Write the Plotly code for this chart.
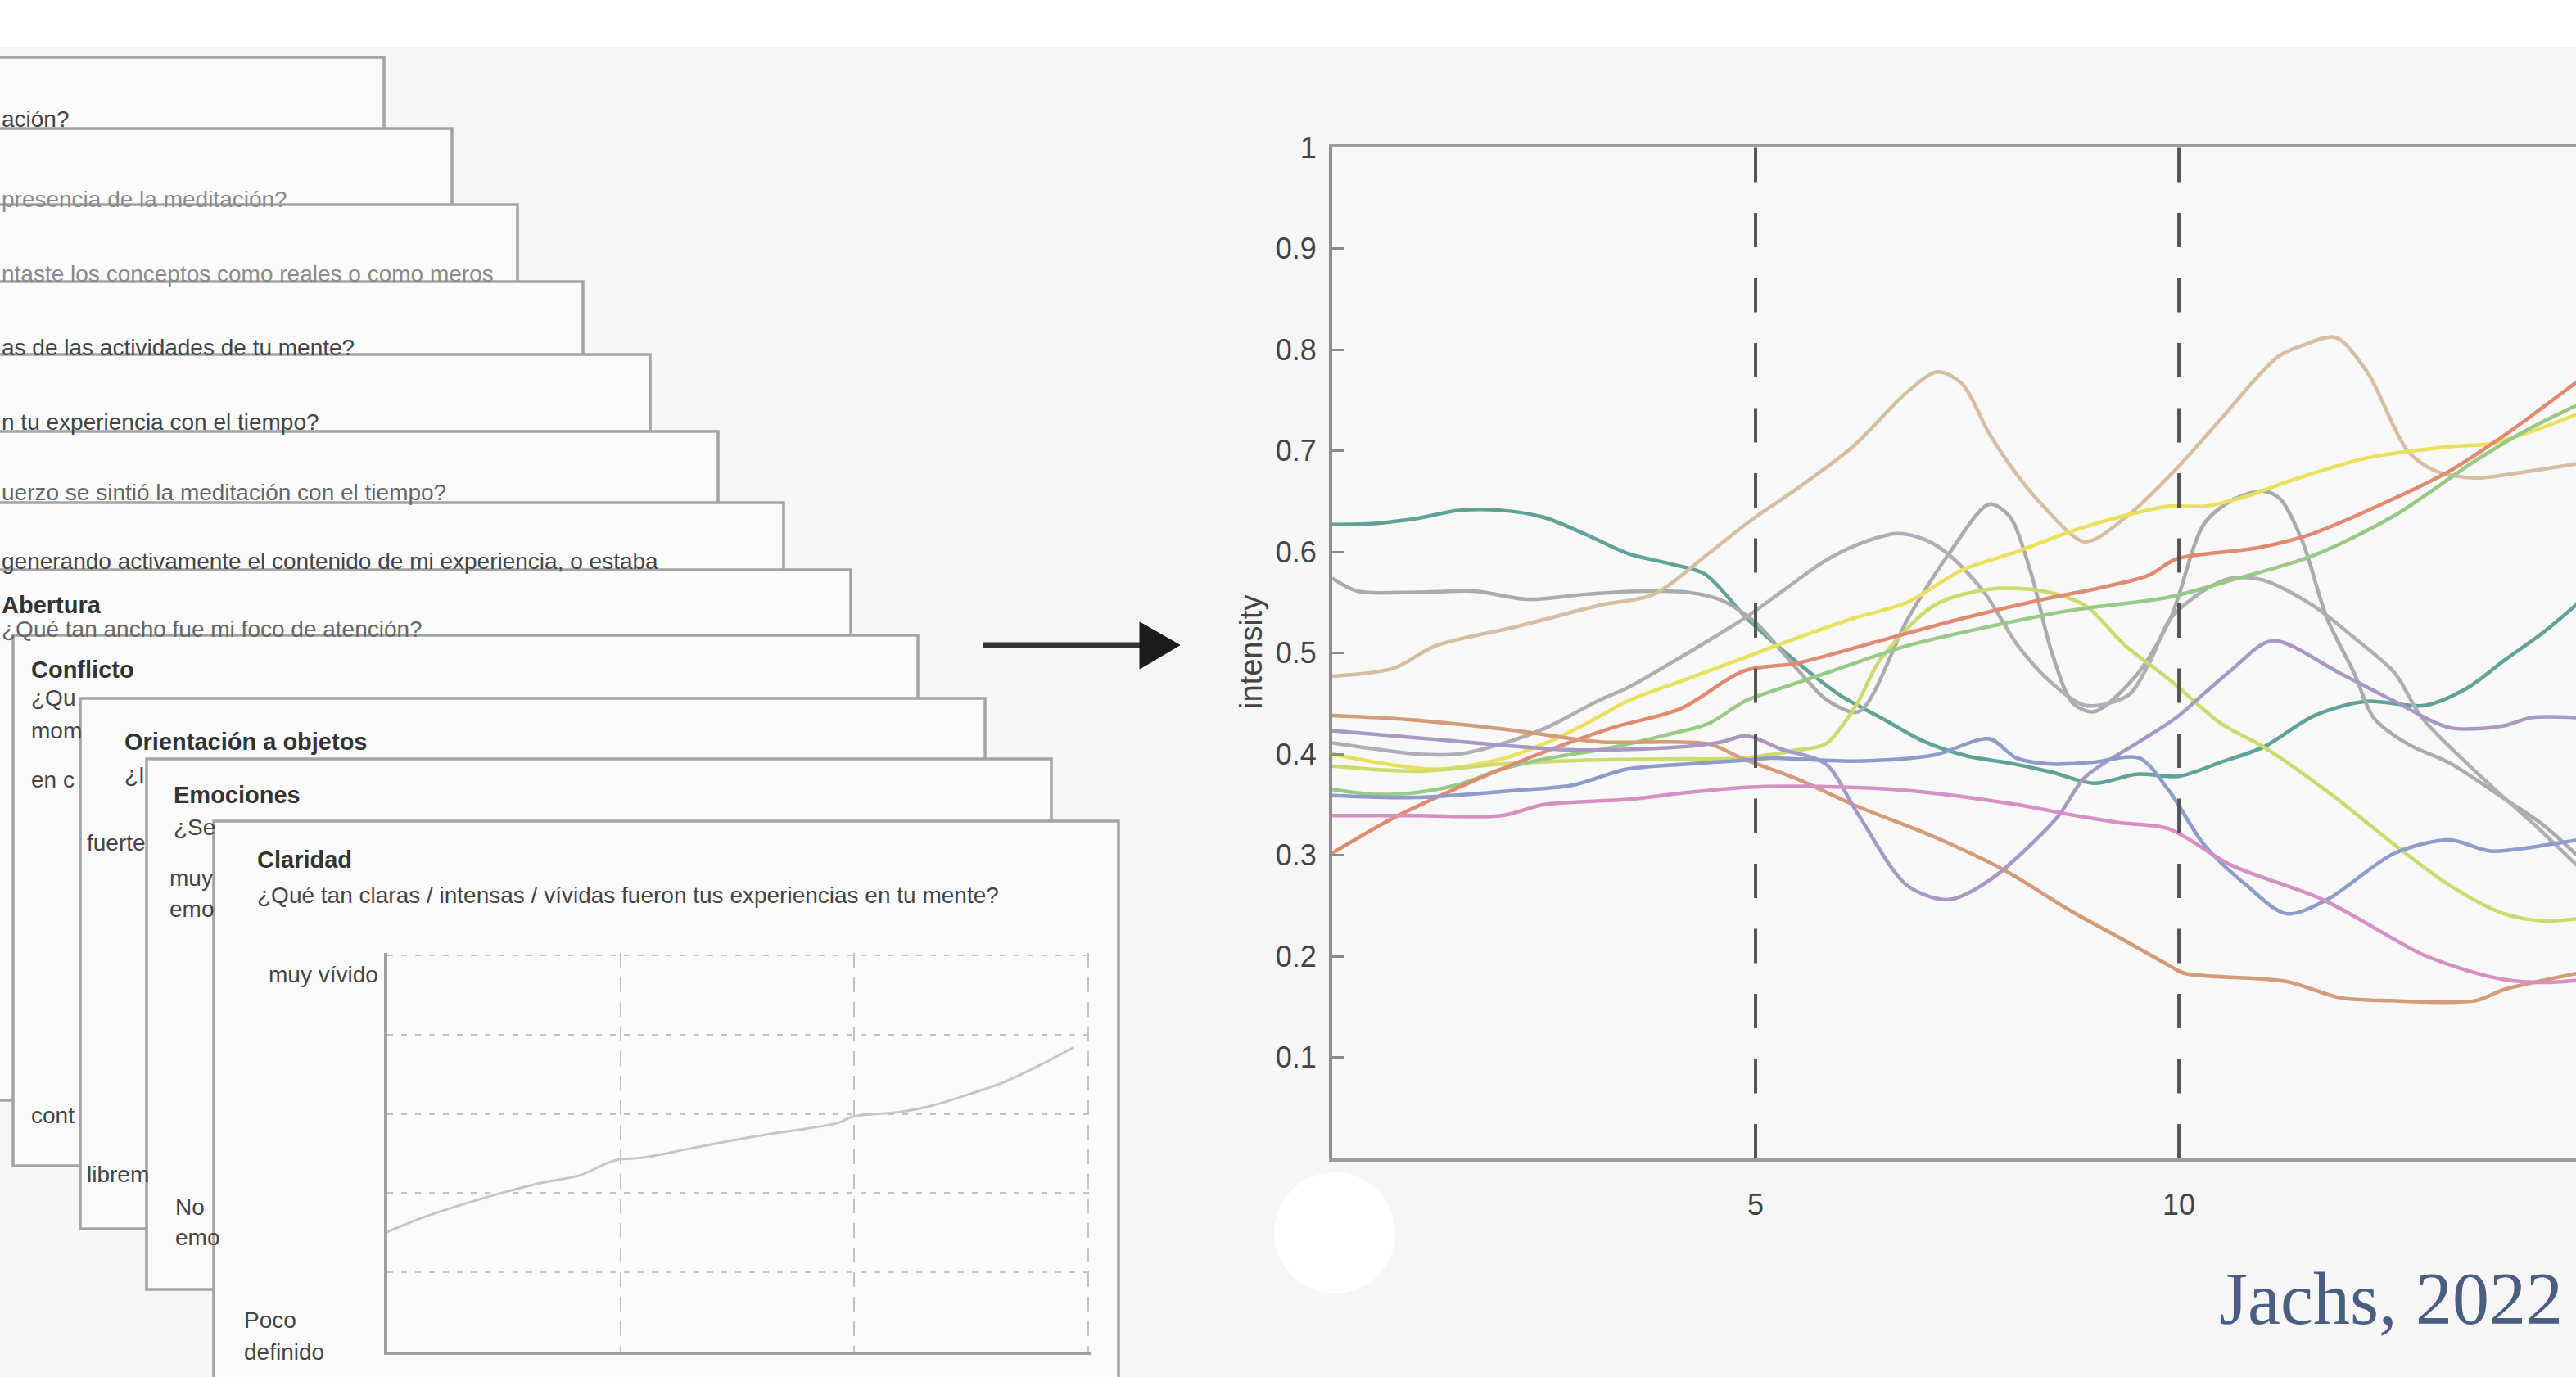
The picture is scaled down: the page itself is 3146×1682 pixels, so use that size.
import plotly.graph_objects as go

W, H = 3146, 1682

# ---------------- data ----------------
phase_bounds = [5, 10]
x_ticks = [5, 10]
y_ticks = [0.1, 0.2, 0.3, 0.4, 0.5, 0.6, 0.7, 0.8, 0.9, 1.0]
y_ticktext = ["0.1", "0.2", "0.3", "0.4", "0.5", "0.6", "0.7", "0.8", "0.9", "1"]

teal_x = [0, 0.5, 1, 1.5, 2, 2.5, 3, 3.5, 4, 4.4, 4.9, 5.5, 6, 6.5, 7, 7.5, 8, 8.5, 9, 9.5, 10, 10.5, 11, 11.6, 12.2, 12.9, 13.4, 13.85, 14.3, 14.7]
teal_y = [0.627, 0.628, 0.633, 0.641, 0.641, 0.634, 0.617, 0.598, 0.588, 0.578, 0.534, 0.49, 0.458, 0.435, 0.412, 0.398, 0.391, 0.382, 0.371, 0.380, 0.378, 0.392, 0.407, 0.438, 0.452, 0.448, 0.465, 0.493, 0.52, 0.548]

grayb_x = [0, 0.3, 1, 1.7, 2.3, 3, 3.6, 4.2, 4.6, 5.0, 5.5, 5.85, 6.22, 6.8, 7.3, 7.76, 8.0, 8.25, 8.5, 8.75, 9.0, 9.5, 9.9, 10.3, 10.65, 11.0, 11.2, 11.46, 11.75, 12.07, 12.3, 12.7, 13.2, 13.84, 14.3, 14.7]
grayb_y = [0.574, 0.561, 0.560, 0.561, 0.553, 0.558, 0.561, 0.560, 0.552, 0.53, 0.483, 0.453, 0.442, 0.534, 0.60, 0.647, 0.635, 0.58, 0.50, 0.45, 0.442, 0.478, 0.534, 0.628, 0.652, 0.66, 0.652, 0.61, 0.534, 0.48, 0.436, 0.41, 0.391, 0.356, 0.33, 0.30]

graya_x = [0, 0.5, 1, 1.5, 2, 2.5, 3.15, 3.5, 4, 4.5, 4.9, 5.3, 5.8, 6.2, 6.67, 7.0, 7.3, 7.7, 8.1, 8.5, 8.9, 9.4, 9.65, 9.9, 10.3, 10.62, 11.0, 11.58, 12.07, 12.55, 12.87, 13.68, 14.2, 14.7]
graya_y = [0.411, 0.405, 0.40, 0.40, 0.41, 0.425, 0.453, 0.466, 0.49, 0.515, 0.536, 0.56, 0.59, 0.607, 0.618, 0.612, 0.596, 0.56, 0.507, 0.47, 0.448, 0.458, 0.49, 0.534, 0.562, 0.574, 0.572, 0.547, 0.515, 0.48, 0.436, 0.369, 0.33, 0.29]

tan_x = [0, 0.73, 1.22, 2.18, 3.15, 3.8, 4.44, 4.96, 5.5, 6.15, 6.79, 7.15, 7.44, 7.76, 8.08, 8.4, 8.89, 9.37, 9.97, 10.46, 11.17, 11.46, 11.85, 12.23, 12.7, 13.03, 13.5, 14.0, 14.7]
tan_y = [0.477, 0.485, 0.507, 0.526, 0.547, 0.558, 0.598, 0.632, 0.663, 0.704, 0.758, 0.778, 0.766, 0.717, 0.677, 0.645, 0.610, 0.634, 0.682, 0.728, 0.793, 0.804, 0.812, 0.777, 0.70, 0.68, 0.673, 0.678, 0.687]

yellow_x = [0, 0.5, 1.22, 2, 2.5, 3, 3.48, 4.12, 4.86, 5.5, 6.15, 6.79, 7.44, 8.08, 8.72, 9.37, 9.88, 10.3, 10.8, 11.27, 12.23, 13.2, 13.68, 14.2, 14.7]
yellow_y = [0.40, 0.392, 0.385, 0.395, 0.41, 0.43, 0.452, 0.472, 0.495, 0.515, 0.534, 0.55, 0.582, 0.60, 0.62, 0.636, 0.645, 0.645, 0.655, 0.669, 0.693, 0.704, 0.707, 0.72, 0.736]

ygreen_x = [0, 1, 2, 3, 4, 4.86, 5.5, 5.83, 6.2, 6.47, 7.11, 7.76, 8.4, 8.89, 9.37, 9.88, 10.5, 11.0, 11.8, 12.55, 13.2, 13.84, 14.3, 14.7]
ygreen_y = [0.388, 0.383, 0.39, 0.394, 0.395, 0.396, 0.404, 0.41, 0.45, 0.493, 0.547, 0.563, 0.561, 0.547, 0.507, 0.474, 0.43, 0.407, 0.36, 0.31, 0.27, 0.242, 0.235, 0.237]

green_x = [0, 0.5, 1, 1.5, 2, 2.5, 3.15, 3.5, 4, 4.44, 4.89, 5.3, 5.83, 6.79, 7.76, 8.72, 9.88, 10.62, 11.58, 12.55, 13.5, 14.1, 14.7]
green_y = [0.365, 0.36, 0.362, 0.37, 0.385, 0.395, 0.404, 0.41, 0.42, 0.43, 0.453, 0.465, 0.48, 0.507, 0.526, 0.542, 0.555, 0.572, 0.596, 0.636, 0.69, 0.72, 0.745]

red_x = [0, 0.73, 1.55, 2.44, 3.31, 4.12, 4.86, 5.5, 6.47, 7.44, 8.4, 9.05, 9.65, 9.97, 10.94, 11.58, 12.55, 13.2, 13.84, 14.7]
red_y = [0.302, 0.337, 0.369, 0.40, 0.426, 0.445, 0.482, 0.49, 0.512, 0.534, 0.553, 0.564, 0.577, 0.593, 0.604, 0.618, 0.653, 0.68, 0.715, 0.768]

orange_x = [0, 0.9, 2.18, 3.15, 4.44, 4.86, 5.5, 6.15, 7.11, 7.92, 8.72, 9.37, 9.88, 10.07, 11.27, 11.9, 12.5, 13.5, 13.84, 14.7]
orange_y = [0.438, 0.434, 0.423, 0.412, 0.41, 0.395, 0.375, 0.35, 0.318, 0.286, 0.245, 0.215, 0.191, 0.183, 0.175, 0.159, 0.156, 0.156, 0.167, 0.183]

purple_x = [0, 1.55, 2.83, 4.12, 4.6, 4.89, 5.3, 5.83, 6.2, 6.79, 7.28, 7.76, 8.56, 8.89, 9.53, 9.97, 10.3, 10.62, 11.1, 11.9, 12.55, 13.2, 13.84, 14.16, 14.7]
purple_y = [0.423, 0.412, 0.404, 0.407, 0.412, 0.418, 0.405, 0.39, 0.342, 0.27, 0.256, 0.275, 0.337, 0.377, 0.412, 0.436, 0.46, 0.483, 0.512, 0.48, 0.452, 0.426, 0.428, 0.436, 0.436]

blue_x = [0, 1, 2.18, 2.83, 3.48, 4.2, 4.89, 5.18, 6.15, 7.11, 7.76, 8.08, 8.5, 9.0, 9.53, 9.88, 10.3, 10.8, 11.27, 11.75, 12.55, 13.2, 13.68, 14.48, 14.7]
blue_y = [0.359, 0.357, 0.364, 0.369, 0.385, 0.39, 0.394, 0.396, 0.393, 0.399, 0.415, 0.396, 0.39, 0.392, 0.396, 0.364, 0.31, 0.27, 0.242, 0.256, 0.302, 0.315, 0.304, 0.312, 0.315]

pink_x = [0, 1, 2, 2.5, 3.48, 4.2, 4.89, 5.5, 6.79, 8.08, 8.72, 9.3, 9.88, 10.62, 11.7, 12.87, 13.4, 13.84, 14.3, 14.7]
pink_y = [0.339, 0.339, 0.339, 0.35, 0.355, 0.362, 0.367, 0.368, 0.364, 0.35, 0.34, 0.332, 0.326, 0.29, 0.256, 0.202, 0.186, 0.177, 0.174, 0.176]

series_colors = ["#5fa398", "#ababab", "#b0adb5", "#d6bea2", "#e9e15a", "#cddb6e",
                 "#98c986", "#e08a72", "#d39b78", "#a898c4", "#8e9ccc", "#d690c4"]

# inner mini chart on the "Claridad" card shows one rating curve
inner_x = red_x
inner_y = red_y
inner_grid_x = [5, 10, 15]
inner_grid_y = [0.2, 0.4, 0.6, 0.8, 1.0]

# survey cards: right edge and top (pixels of the slide)
card_right = [469, 552, 632, 712, 794, 877, 957, 1039, 1121, 1203, 1284, 1366]
card_top = [70, 157, 250, 344, 433, 527, 614, 696, 776, 853, 927, 1003]
CARD_W, CARD_H = 1105, 648

# ---------------- helpers ----------------
def px(x):
    return x / W

def py(y):
    return 1 - y / H

FONT = "Liberation Sans, Arial, sans-serif"

fig = go.Figure()

table = [
    (teal_x, teal_y), (grayb_x, grayb_y), (graya_x, graya_y), (tan_x, tan_y),
    (yellow_x, yellow_y), (ygreen_x, ygreen_y), (green_x, green_y), (red_x, red_y),
    (orange_x, orange_y), (purple_x, purple_y), (blue_x, blue_y), (pink_x, pink_y),
]
for (xs, ys), col in zip(table, series_colors):
    fig.add_trace(go.Scatter(
        x=xs, y=ys, mode="lines", line=dict(color=col, width=4.5, shape="spline", smoothing=0.85),
        hoverinfo="skip", showlegend=False, xaxis="x", yaxis="y"))

fig.add_trace(go.Scatter(
    x=inner_x, y=inner_y, mode="lines", line=dict(color="#c6c6c6", width=3, shape="spline", smoothing=1.0),
    hoverinfo="skip", showlegend=False, xaxis="x2", yaxis="y2"))

shapes = []
# white strip at the top of the slide
shapes.append(dict(type="rect", xref="paper", yref="paper", x0=0, x1=1, y0=py(58), y1=1,
                   fillcolor="#ffffff", line=dict(width=0), layer="below"))
# stacked cards
for i, (r, t) in enumerate(zip(card_right, card_top)):
    b = t + CARD_H if i < len(card_right) - 1 else H + 60
    shapes.append(dict(type="rect", xref="paper", yref="paper",
                       x0=px(r - CARD_W), x1=px(r), y0=py(b), y1=py(t),
                       fillcolor="#fbfbfb", line=dict(color="#a4a4a4", width=3.5), layer="below"))
# arrow
shapes.append(dict(type="line", xref="paper", yref="paper", x0=px(1200), x1=px(1405), y0=py(788), y1=py(788),
                   line=dict(color="#333333", width=7), layer="above"))
shapes.append(dict(type="path", xref="paper", yref="paper",
                   path=f"M {px(1392)} {py(760)} L {px(1441)} {py(788)} L {px(1392)} {py(817)} Z",
                   fillcolor="#1c1c1c", line=dict(color="#1c1c1c", width=1), layer="above"))
# phase boundaries (dashed)
for xb in phase_bounds:
    shapes.append(dict(type="line", xref="x", yref="y", x0=xb, x1=xb, y0=0, y1=1,
                       line=dict(color="#555555", width=4, dash="42px,37.5px"), layer="above"))
# white disc under the axis origin
shapes.append(dict(type="circle", xref="paper", yref="paper",
                   x0=px(1556), x1=px(1704), y0=py(1580), y1=py(1432),
                   fillcolor="#ffffff", line=dict(width=0), layer="above"))

annotations = []

def txt(x, y, s, size=28, color="#444444", bold=False, anchor="left"):
    annotations.append(dict(xref="paper", yref="paper", x=px(x), y=py(y), text=(f"<b>{s}</b>" if bold else s),
                            showarrow=False, xanchor=anchor, yanchor="middle",
                            font=dict(family=FONT, size=size, color=color)))

# card texts (only the parts left visible by the stacking)
txt(0, 146, "ación?")
txt(0, 243, "presencia de la meditación?", color="#8a8a8a")
txt(0, 334, "ntaste los conceptos como reales o como meros", color="#8a8a8a")
txt(0, 425, "as de las actividades de tu mente?")
txt(0, 515, "n tu experiencia con el tiempo?")
txt(0, 601, "uerzo se sintió la meditación con el tiempo?", color="#666666")
txt(0, 686, "generando activamente el contenido de mi experiencia, o estaba")
txt(0, 739, "Abertura", size=29, color="#333333", bold=True)
txt(0, 768, "¿Qué tan ancho fue mi foco de atención?", color="#666666")
txt(36, 818, "Conflicto", size=29, color="#333333", bold=True)
txt(36, 852, "¿Qu")
txt(36, 893, "mom")
txt(36, 952, "en c")
txt(36, 1362, "cont")
txt(150, 906, "Orientación a objetos", size=29, color="#333333", bold=True)
txt(150, 946, "¿I")
txt(104, 1029, "fuerte")
txt(104, 1434, "librem")
txt(210, 971, "Emociones", size=29, color="#333333", bold=True)
txt(210, 1010, "¿Se")
txt(205, 1072, "muy")
txt(205, 1110, "emo")
txt(212, 1474, "No")
txt(212, 1511, "emo")
txt(312, 1050, "Claridad", size=29, color="#333333", bold=True)
txt(312, 1093, "¿Qué tan claras / intensas / vívidas fueron tus experiencias en tu mente?")
txt(326, 1190, "muy vívido")
txt(296, 1612, "Poco")
txt(296, 1651, "definido")

# y-axis title
annotations.append(dict(xref="paper", yref="paper", x=px(1528), y=py(797), text="intensity", textangle=-90,
                        showarrow=False, xanchor="center", yanchor="middle",
                        font=dict(family=FONT, size=38, color="#444444")))
# citation
annotations.append(dict(xref="paper", yref="paper", x=px(3132), y=py(1586), text="Jachs, 2022",
                        showarrow=False, xanchor="right", yanchor="middle",
                        font=dict(family="Liberation Serif, DejaVu Serif, serif", size=90, color="#4b5d80")))

fig.update_layout(
    width=W, height=H,
    autosize=False,
    margin=dict(l=0, r=0, t=0, b=0, pad=0),
    paper_bgcolor="#f6f6f6",
    plot_bgcolor="#f8f8f8",
    showlegend=False,
    xaxis=dict(domain=[px(1627), 1], range=[0, 14.69], anchor="y", automargin=False,
               showline=True, linecolor="#9d9d9d", linewidth=4, mirror=True,
               ticks="inside", ticklen=14, tickwidth=3, tickcolor="#8a8a8a",
               tickvals=x_ticks, ticktext=[str(v) for v in x_ticks],
               tickfont=dict(family=FONT, size=36, color="#444444"), ticklabelstandoff=22,
               showgrid=False, zeroline=False),
    yaxis=dict(domain=[1 - 1415 / H, 1 - 180 / H], range=[0, 1], anchor="x", automargin=False,
               showline=True, linecolor="#8f8f8f", linewidth=4, mirror=False,
               ticks="inside", ticklen=14, tickwidth=3, tickcolor="#8a8a8a",
               tickvals=y_ticks, ticktext=y_ticktext,
               tickfont=dict(family=FONT, size=36, color="#444444"), ticklabelstandoff=8,
               showgrid=False, zeroline=False),
    xaxis2=dict(domain=[px(473), px(1332)], range=[0, 15.06], anchor="y2", automargin=False,
                showline=True, linecolor="#a0a0a0", linewidth=4,
                showgrid=True, gridcolor="#c2c2c2", gridwidth=2, griddash="18px,12px",
                tickvals=inner_grid_x, showticklabels=False, ticks="", zeroline=False),
    yaxis2=dict(domain=[1 - 1651 / H, 1 - 1164 / H], range=[0, 1.006], anchor="x2", automargin=False,
                showline=True, linecolor="#a0a0a0", linewidth=4,
                showgrid=True, gridcolor="#c2c2c2", gridwidth=2, griddash="7px,10px",
                tickvals=inner_grid_y, showticklabels=False, ticks="", zeroline=False),
    shapes=shapes,
    annotations=annotations,
)

fig.write_html("out.html", config={"displayModeBar": False},
               post_script="document.body.style.margin='0';document.body.style.overflow='hidden';")
